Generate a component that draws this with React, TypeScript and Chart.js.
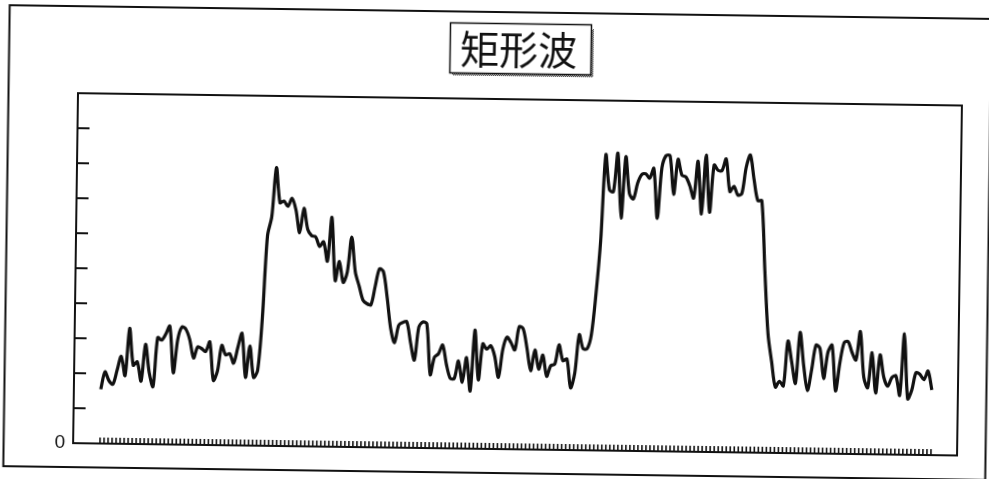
import { useEffect, useRef } from 'react';
import { Chart, registerables } from 'chart.js';

Chart.register(...registerables);

// Chart text
const TITLE = '矩形波';
const Y_LABEL_VALUES = [0];
const Y_MARK_VALUES = [1, 2, 3, 4, 5, 6, 7, 8, 9];

// Sampled signal: low level, raised level with decay, flat high level, low level
const SAMPLES = [
  1.55, 2.05, 1.8, 1.7, 2.1, 2.5, 1.95, 3.3, 2.25, 2.35,
  1.8, 2.85, 2.05, 1.65, 3.05, 2.98, 3.15, 3.38, 2.05, 3.0,
  3.36, 3.3, 3.0, 2.48, 2.8, 2.75, 2.67, 2.95, 1.85, 2.12,
  2.85, 2.58, 2.62, 2.35, 2.8, 3.2, 1.95, 2.85, 1.95, 2.15,
  3.65, 6.0, 6.55, 7.95, 6.95, 7.0, 6.85, 7.08, 6.75, 6.1,
  6.8, 6.2, 6.02, 5.99, 5.72, 5.85, 5.3, 6.55, 4.75, 5.3,
  4.7, 5.0, 6.0, 5.0, 4.6, 4.2, 4.1, 4.07, 4.6, 5.1,
  5.02, 4.3, 3.4, 3.0, 3.5, 3.58, 3.6, 3.0, 2.51, 3.45,
  3.6, 3.55, 2.1, 2.6, 2.7, 2.95, 2.4, 2.0, 2.0, 2.5,
  1.9, 2.6, 1.65, 3.39, 1.97, 3.0, 2.85, 2.95, 2.65, 2.05,
  2.85, 3.2, 3.05, 2.84, 3.5, 3.45, 2.9, 2.25, 2.85, 2.3,
  2.7, 2.1, 2.4, 2.45, 3.0, 2.55, 2.6, 1.78, 2.2, 3.3,
  2.9, 2.9, 3.3, 4.45, 6.0, 8.45, 7.45, 7.4, 8.5, 6.65,
  8.4, 7.35, 7.2, 7.65, 7.9, 7.92, 7.8, 8.08, 6.65, 8.1,
  8.45, 8.45, 7.35, 8.35, 7.9, 7.85, 7.6, 7.25, 8.3, 6.8,
  8.48, 6.85, 8.2, 8.05, 8.05, 8.38, 7.45, 7.6, 7.35, 7.4,
  8.15, 8.5, 7.8, 7.2, 7.2, 5.2, 3.4, 2.6, 1.88, 2.05,
  1.92, 3.2, 2.6, 2.0, 3.45, 2.5, 1.8, 2.4, 3.1, 3.0,
  2.15, 2.9, 3.1, 1.8, 2.6, 3.18, 3.21, 2.9, 2.69, 3.5,
  2.2, 1.9, 2.9, 1.75, 2.84, 2.2, 1.95, 2.2, 2.25, 1.7,
  3.45, 1.6, 1.85, 2.35, 2.3, 2.15, 2.4, 1.86,
];

const Y_MIN = 0;
const Y_MAX = 10;
const X_MIN = -6.7;
const X_MAX = 213.5;

const INK = '#111111';

function makeDotPattern(ctx: CanvasRenderingContext2D) {
  const c = document.createElement('canvas');
  c.width = 2;
  c.height = 2;
  const p = c.getContext('2d')!;
  p.fillStyle = INK;
  p.fillRect(0, 0, 1, 1);
  p.fillRect(1, 1, 1, 1);
  return ctx.createPattern(c, 'repeat');
}

const decorPlugin = {
  id: 'decor',
  beforeDraw(chart: any) {
    const { ctx, width, height } = chart;
    ctx.save();
    ctx.fillStyle = '#ffffff';
    ctx.fillRect(0, 0, width, height);
    // outer frame
    ctx.strokeStyle = INK;
    ctx.lineWidth = 2;
    ctx.strokeRect(16.5, 22, 982, 461);
    ctx.restore();
  },
  beforeDatasetsDraw(chart: any) {
    const { ctx, chartArea: a, scales } = chart;
    ctx.save();
    ctx.strokeStyle = INK;
    // plot box
    ctx.lineWidth = 2;
    ctx.strokeRect(a.left, a.top, a.right - a.left, a.bottom - a.top);
    // inward value marks on the left axis
    ctx.lineWidth = 2;
    ctx.beginPath();
    Y_MARK_VALUES.forEach((v) => {
      const y = Math.round(scales.y.getPixelForValue(v));
      ctx.moveTo(a.left, y);
      ctx.lineTo(a.left + 12, y);
    });
    ctx.stroke();
    // one small mark per sample along the bottom axis
    ctx.lineWidth = 1.6;
    ctx.beginPath();
    SAMPLES.forEach((_, i) => {
      const x = scales.x.getPixelForValue(i);
      ctx.moveTo(x, a.bottom);
      ctx.lineTo(x, a.bottom - 6);
    });
    ctx.stroke();
    ctx.restore();
  },
  afterDraw(chart: any) {
    const { ctx, chartArea: a } = chart;
    ctx.save();
    ctx.font = "39px 'Noto Sans CJK JP', 'Noto Sans CJK SC', sans-serif";
    const tw = ctx.measureText(TITLE).width;
    const bw = Math.round(tw + 24);
    const bh = 50;
    const cx = (a.left + a.right) / 2 - 1;
    const left = Math.round(cx - bw / 2);
    const top = 33;
    // dotted drop shadow
    const pat = makeDotPattern(ctx);
    if (pat) {
      ctx.fillStyle = pat;
      ctx.fillRect(left + bw, top + 5, 3, bh - 2);
      ctx.fillRect(left + 3, top + bh, bw, 3);
    }
    ctx.fillStyle = '#ffffff';
    ctx.fillRect(left, top, bw, bh);
    ctx.strokeStyle = INK;
    ctx.lineWidth = 1.5;
    ctx.strokeRect(left + 0.5, top + 0.5, bw, bh);
    ctx.fillStyle = INK;
    ctx.textAlign = 'center';
    ctx.textBaseline = 'middle';
    ctx.fillText(TITLE, cx - 1, top + bh / 2 + 1);
    ctx.restore();
  },
};

export default function App() {
  const ref = useRef<HTMLCanvasElement>(null);

  useEffect(() => {
    const canvas = ref.current;
    if (!canvas) return;
    const chart = new Chart(canvas, {
      type: 'line',
      data: {
        datasets: [
          {
            data: SAMPLES.map((v, i) => ({ x: i, y: v })),
            borderColor: INK,
            borderWidth: 3.2,
            pointRadius: 0,
            tension: 0.3,
            fill: false,
          },
        ],
      },
      options: {
        responsive: false,
        maintainAspectRatio: false,
        animation: false,
        devicePixelRatio: 1,
        layout: { padding: { top: 109, right: 39, bottom: 40, left: 0 } },
        plugins: {
          legend: { display: false },
          title: { display: false },
          tooltip: { enabled: false },
        },
        scales: {
          x: {
            type: 'linear',
            min: X_MIN,
            max: X_MAX,
            display: false,
          },
          y: {
            type: 'linear',
            min: Y_MIN,
            max: Y_MAX,
            border: { display: false },
            grid: { display: false, drawTicks: false },
            afterBuildTicks: (scale: any) => {
              scale.ticks = Y_LABEL_VALUES.map((v) => ({ value: v }));
            },
            afterFit: (scale: any) => {
              scale.width = 86;
            },
            ticks: {
              padding: 8,
              color: INK,
              font: { family: 'Liberation Sans', size: 19 },
              callback: (v: any) => String(v),
            },
          },
        },
      },
      plugins: [decorPlugin],
    });
    return () => chart.destroy();
  }, []);

  return (
    <div
      style={{
        position: 'fixed',
        left: -10,
        top: -10,
        width: 1009,
        height: 499,
        transform: 'rotate(0.8deg)',
        transformOrigin: '504.5px 249.5px',
        background: '#ffffff',
      }}
    >
      <canvas ref={ref} width={1009} height={499} style={{ display: 'block' }} />
    </div>
  );
}
